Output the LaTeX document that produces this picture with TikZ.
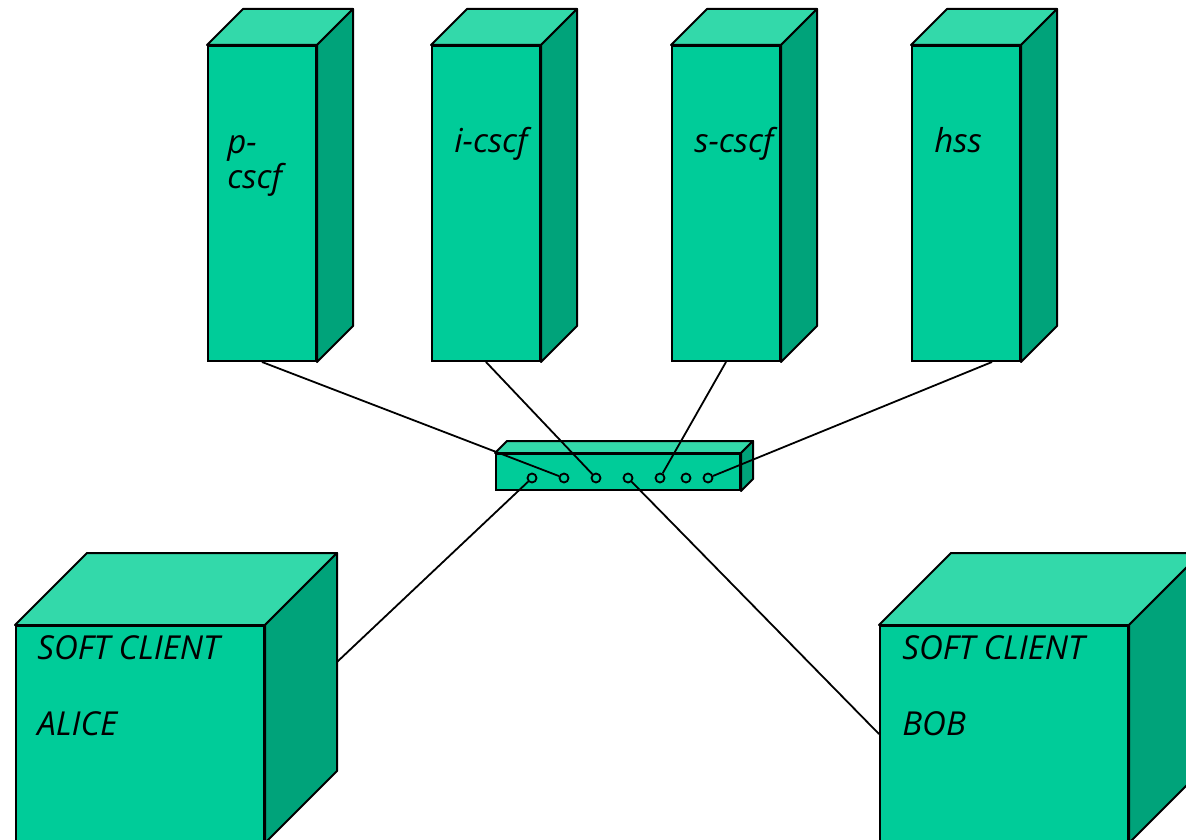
\documentclass[tikz,border=0pt]{standalone}
\usepackage{fontspec}
\setmainfont{Open Sans}
\usetikzlibrary{positioning}

\definecolor{boxfront}{RGB}{0,204,153}
\definecolor{boxtop}{RGB}{51,217,170}
\definecolor{boxside}{RGB}{0,163,122}

% top and right faces of a box whose front face is node #1, depth #2
\newcommand{\boxfaces}[2]{%
  \draw[topface] (#1.north west) -- ++(#2,#2) -- ([shift={(#2,#2)}]#1.north east) -- (#1.north east) -- cycle;
  \draw[sideface] (#1.north east) -- ++(#2,#2) -- ([shift={(#2,#2)}]#1.south east) -- (#1.south east) -- cycle;}

\begin{document}
\begin{tikzpicture}[x=0.5pt,y=-0.5pt]
        \tikzstyle{front}=[rectangle,draw,line width=1pt,fill=boxfront,inner sep=0pt]
        \tikzstyle{topface}=[draw,line width=1pt,fill=boxtop,line join=round]
        \tikzstyle{sideface}=[draw,line width=1pt,fill=boxside,line join=round]
        \tikzstyle{tower}=[front,minimum width=54pt,minimum height=157.5pt]
        \tikzstyle{client}=[front,minimum width=124pt,minimum height=108pt]
        \tikzstyle{port}=[circle,draw,line width=0.9pt,fill=boxfront,inner sep=0pt,minimum size=4.5pt]
        \tikzstyle{wire}=[line width=0.9pt]
        \tikzstyle{lbl}=[inner sep=0pt,align=left,anchor=base west,font=\fontsize{16.5}{17.5}\selectfont\itshape]

        \useasboundingbox (0,0) rectangle (1186,839);

        \node [tower] (pcscf) at (262,203.5) {}; %P-CSCF
        \node [tower] (icscf) [right=57pt of pcscf] {}; %I-CSCF
        \node [tower] (scscf) [right=65pt of icscf] {}; %S-CSCF
        \node [tower] (hss) [right=65pt of scscf] {}; %HSS
        \foreach \n in {pcscf,icscf,scscf,hss}
            {\boxfaces{\n}{18pt}}

        \node [front,minimum width=122pt,minimum height=18pt] (sw) at (618,472) {}; %switch
        \boxfaces{sw}{6pt}

        \node [client] (alice) at (140,734) {};
        \boxfaces{alice}{36pt}
        \node [client] (bob) at (1004,734) {};
        \boxfaces{bob}{36pt}

        % base anchor sits on the last line
        \node [lbl] at ([shift={(10pt,-72pt)}]pcscf.north west) {p-\\cscf};
        \node [lbl] at ([shift={(11.5pt,-54pt)}]icscf.north west) {i-cscf};
        \node [lbl] at ([shift={(11.5pt,-54pt)}]scscf.north west) {s-cscf};
        \node [lbl] at ([shift={(11.5pt,-54pt)}]hss.north west) {hss};
        \node [lbl] at ([shift={(11pt,-55pt)}]alice.north west) {SOFT CLIENT\\[20.5pt]ALICE};
        \node [lbl] at ([shift={(11.5pt,-55pt)}]bob.north west) {SOFT CLIENT\\[20.5pt]BOB};

        \foreach \x [count=\i] in {532,564,596,628,660,686,708}
            \node [port] (p\i) at (\x,478) {};

        \coordinate (aliceedge) at ([shift={(36pt,36pt)}]alice.east);
        \coordinate (hssfoot) at ([xshift=13pt]hss.south);
        \draw [wire] (pcscf.south) -- (p2);
        \draw [wire] (icscf.south) -- (p3);
        \draw [wire] (scscf.south) -- (p5);
        \draw [wire] (hssfoot) -- (p7);
        \draw [wire] (p1) -- (aliceedge);
        \draw [wire] (p4) -- (bob.west);
    \end{tikzpicture}
\end{document}
